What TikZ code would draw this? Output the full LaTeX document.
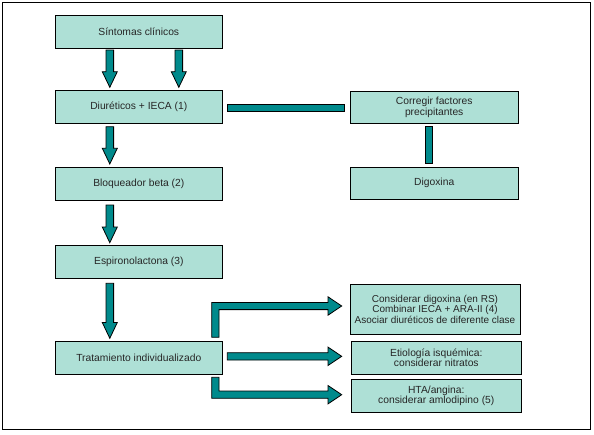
\documentclass[tikz,border=0pt]{standalone}
\usepackage{fontspec}
\setmainfont{Liberation Sans}
\definecolor{boxfill}{RGB}{174,224,214}
\definecolor{arrfill}{RGB}{0,138,140}
\tikzset{
  stepbox/.style={draw=black, line width=0.9pt, fill=boxfill, inner sep=0pt,
    align=center, font=\fontsize{10.3}{9.3}\selectfont, text=black!85},
  fatarrow/.style={draw=black, line width=0.8pt, fill=arrfill, line join=miter},
}
% vertical down arrow: x center, top y, head start y, tip y
\newcommand\fatdown[4]{%
  \draw[fatarrow] ({#1-3.8},#2) -- ({#1+3.8},#2) -- ({#1+3.8},#3) -- ({#1+7.5},#3)
    -- (#1,#4) -- ({#1-7.5},#3) -- ({#1-3.8},#3) -- cycle;}
\begin{document}
\begin{tikzpicture}[x=1pt,y=-1pt]
\useasboundingbox (0,0) rectangle (594,434);
\draw[line width=0.9pt] (2.7,2.7) rectangle (590.7,429);
% left column
\node[stepbox, minimum width=167pt, minimum height=33pt] (s) at (138.8,31.8) {Síntomas clínicos};
\node[stepbox, minimum width=167pt, minimum height=33pt] (d) at (138.8,106.7) {Diuréticos + IECA (1)};
\node[stepbox, minimum width=167pt, minimum height=33pt] (b) at (138.8,183.8) {Bloqueador beta (2)};
\node[stepbox, minimum width=167pt, minimum height=33pt] (e) at (138.8,262.2) {Espironolactona (3)};
\node[stepbox, minimum width=167pt, minimum height=33pt] (t) at (138.8,357.5) {Tratamiento individualizado};
% right column
\node[stepbox, minimum width=168.3pt, minimum height=31.6pt] (c) at (434.2,107.5) {Corregir factores\\precipitantes};
\node[stepbox, minimum width=168.3pt, minimum height=31.7pt] (g) at (434.2,183.2) {Digoxina};
\node[stepbox, minimum width=170pt, minimum height=49.7pt, font=\fontsize{10}{7.9}\selectfont] (k) at (435,309.2) {Considerar digoxina (en RS)\\Combinar IECA + ARA-II (4)\\Asociar diuréticos de diferente clase};
\node[stepbox, minimum width=169.3pt, minimum height=33.3pt] (i) at (436.3,357.7) {Etiología isquémica:\\considerar nitratos};
\node[stepbox, minimum width=169.3pt, minimum height=33pt] (h) at (436.3,395.8) {HTA/angina:\\considerar amlodipino (5)};
% down arrows
\fatdown{109.8}{50}{71.7}{87.3}
\fatdown{178.8}{50}{71.7}{87.3}
\fatdown{109.8}{126.7}{148.3}{164}
\fatdown{109.8}{205}{227}{242.7}
\fatdown{109.8}{283.3}{322.5}{338.3}
% bars
\draw[fatarrow] (227.3,104) rectangle (344.3,111.7);
\draw[fatarrow] (425.7,126) rectangle (432.3,163.3);
% elbow arrows
\draw[fatarrow] (211.7,337.3) -- (211.7,302.4) -- (328,302.4) -- (328,296.8) -- (341.7,306)
  -- (328,315.2) -- (328,309.6) -- (219,309.6) -- (219,337.3) -- cycle;
\draw[fatarrow] (227.3,352.7) -- (328,352.7) -- (328,347.1) -- (341.7,356.3) -- (328,365.5)
  -- (328,360) -- (227.3,360) -- cycle;
\draw[fatarrow] (211.7,377.3) -- (211.7,398.3) -- (328,398.3) -- (328,403.9) -- (341.7,394.7)
  -- (328,385.5) -- (328,391) -- (219,391) -- (219,377.3) -- cycle;
\end{tikzpicture}
\end{document}
